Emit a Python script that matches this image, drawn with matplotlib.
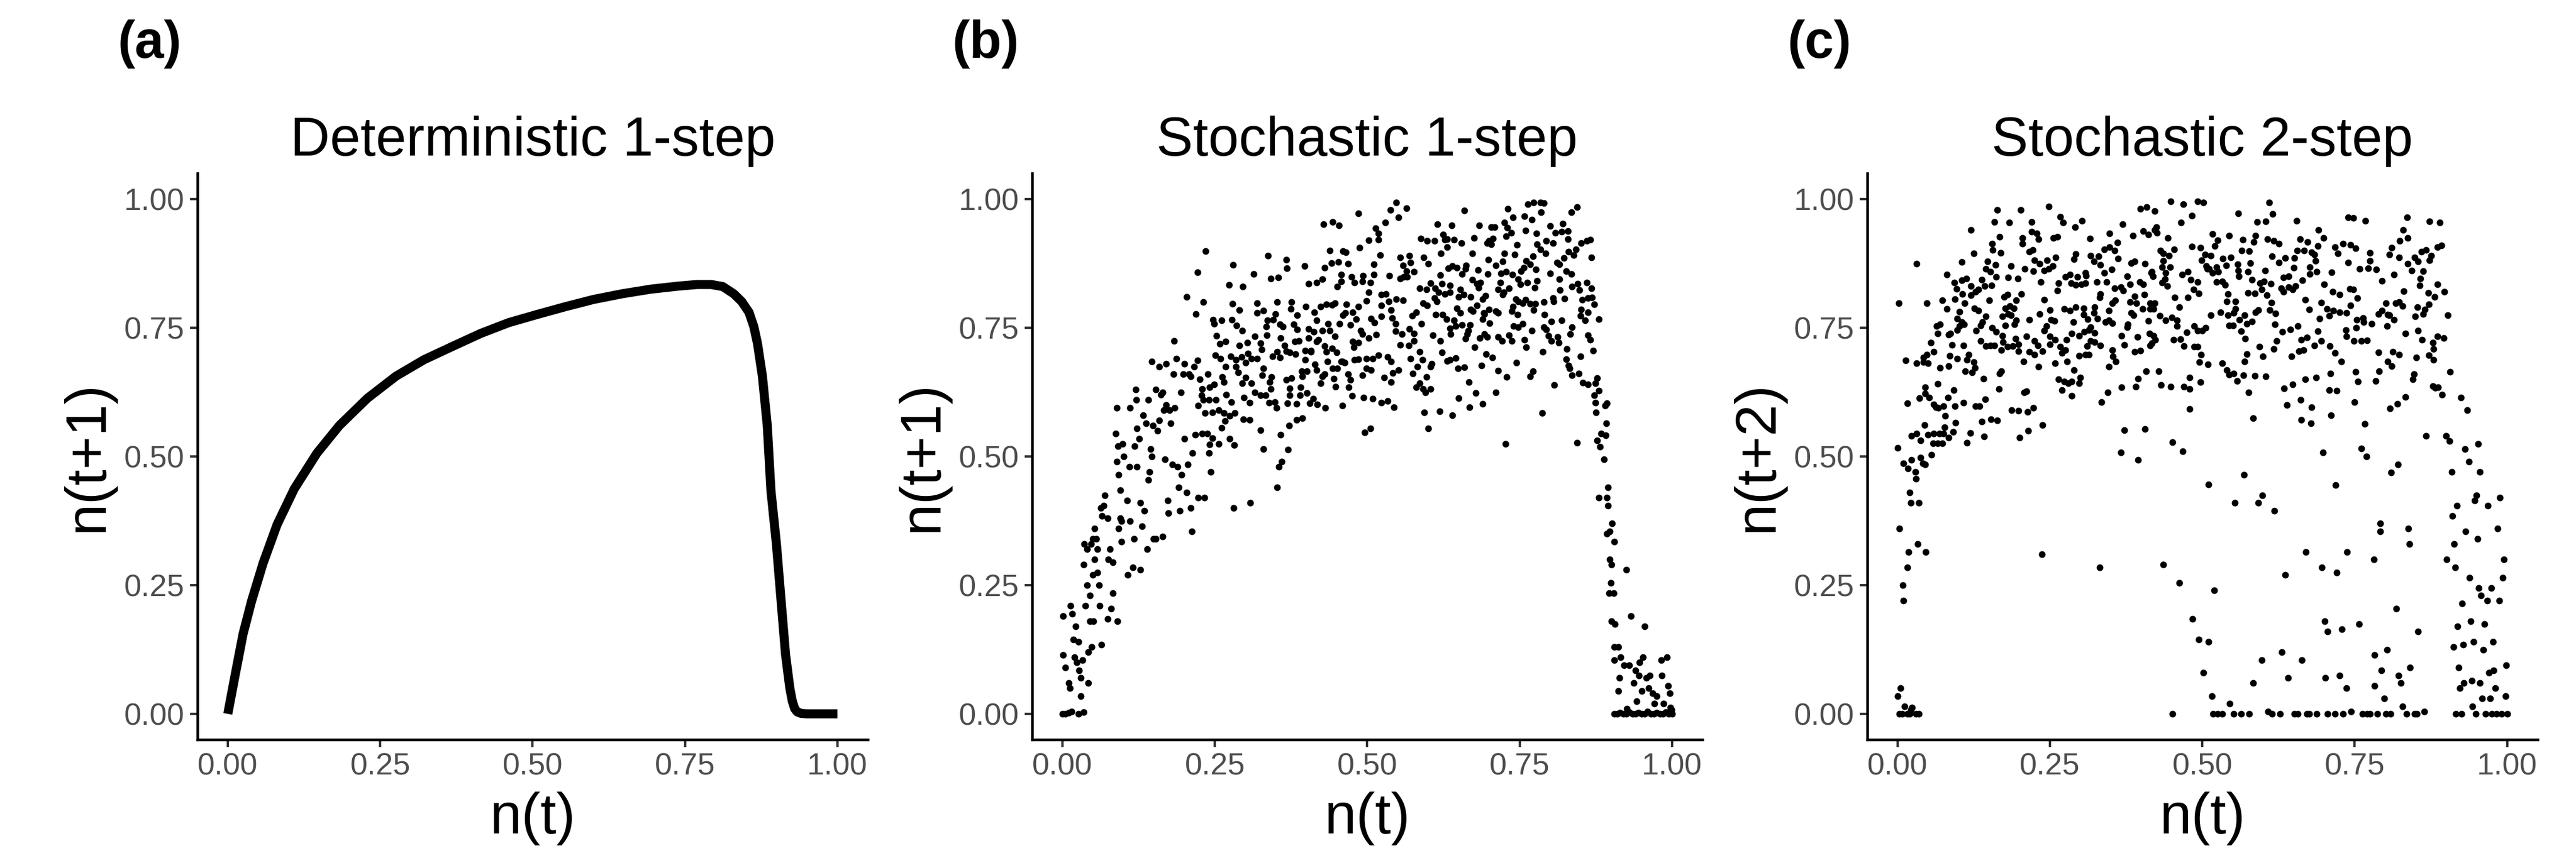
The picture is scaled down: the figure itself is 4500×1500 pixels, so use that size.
import numpy as np
import matplotlib
matplotlib.use("Agg")
import matplotlib.pyplot as plt

plt.rcParams['font.family'] = ['Liberation Sans', 'DejaVu Sans']

# ── Data ──────────────────────────────────────────────────────────────────────
ticks = [0.0, 0.25, 0.5, 0.75, 1.0]
tick_labels = ['0.00', '0.25', '0.50', '0.75', '1.00']

titles = ['Deterministic 1-step', 'Stochastic 1-step', 'Stochastic 2-step']
tags = ['(a)', '(b)', '(c)']
ylabels = ['n(t+1)', 'n(t+1)', 'n(t+2)']
xlabel = 'n(t)'

# (a) deterministic map
det_x = [0.000, 0.011, 0.025, 0.039, 0.058, 0.081, 0.109, 0.146, 0.183, 0.229,
         0.276, 0.322, 0.369, 0.415, 0.461, 0.508, 0.554, 0.600, 0.647, 0.694,
         0.740, 0.770, 0.793, 0.812, 0.830, 0.843, 0.855, 0.863, 0.869, 0.877,
         0.885, 0.891, 0.900, 0.908, 0.915, 0.922, 0.926, 0.930, 0.934, 0.940,
         0.950, 1.000]
det_y = [0.000, 0.069, 0.155, 0.219, 0.293, 0.368, 0.437, 0.506, 0.560, 0.613,
         0.656, 0.688, 0.714, 0.739, 0.760, 0.776, 0.791, 0.805, 0.816, 0.825,
         0.831, 0.834, 0.834, 0.830, 0.816, 0.801, 0.780, 0.752, 0.719, 0.656,
         0.560, 0.434, 0.330, 0.215, 0.115, 0.050, 0.025, 0.010, 0.004, 0.001,
         0.000, 0.000]

# (b) stochastic 1-step pairs (n(t), n(t+1))
b_points = [
    # rising branch, n(t) < 0.21
    (0.000, 0.000), (0.005, 0.000), (0.010, 0.002), (0.015, 0.004), (0.026, 0.000), (0.035, 0.003),
    (0.001, 0.190), (0.001, 0.115), (0.005, 0.090), (0.010, 0.060), (0.012, 0.050), (0.013, 0.210),
    (0.016, 0.195), (0.018, 0.145), (0.020, 0.110), (0.022, 0.170), (0.024, 0.100), (0.026, 0.140),
    (0.027, 0.085), (0.030, 0.035), (0.030, 0.070), (0.033, 0.105), (0.035, 0.290), (0.036, 0.330),
    (0.038, 0.210), (0.040, 0.320), (0.040, 0.250), (0.042, 0.120), (0.042, 0.060), (0.045, 0.230),
    (0.045, 0.180), (0.047, 0.330), (0.048, 0.130), (0.050, 0.270), (0.050, 0.340),
    (0.053, 0.300), (0.053, 0.360), (0.055, 0.340), (0.057, 0.320), (0.057, 0.275), (0.060, 0.250),
    (0.061, 0.210), (0.051, 0.180), (0.063, 0.400), (0.068, 0.405), (0.065, 0.385), (0.070, 0.425),
    (0.074, 0.380), (0.075, 0.300), (0.078, 0.320), (0.080, 0.205), (0.083, 0.235), (0.074, 0.185),
    (0.064, 0.135), (0.083, 0.295), (0.087, 0.545), (0.089, 0.595), (0.089, 0.490), (0.091, 0.520),
    (0.092, 0.465), (0.095, 0.435), (0.095, 0.380), (0.092, 0.360), (0.090, 0.180), (0.097, 0.375),
    (0.097, 0.335),
    (0.099, 0.525), (0.101, 0.500), (0.106, 0.415), (0.107, 0.270), (0.110, 0.480), (0.111, 0.375),
    (0.111, 0.595), (0.116, 0.285), (0.117, 0.340), (0.118, 0.520), (0.120, 0.630), (0.121, 0.610),
    (0.122, 0.555), (0.122, 0.480), (0.126, 0.535), (0.128, 0.410), (0.128, 0.280), (0.131, 0.365),
    (0.132, 0.580), (0.134, 0.395), (0.137, 0.565), (0.139, 0.320), (0.141, 0.610), (0.141, 0.455),
    (0.143, 0.470), (0.145, 0.515), (0.147, 0.685), (0.147, 0.500), (0.148, 0.560), (0.149, 0.340),
    (0.153, 0.630), (0.153, 0.340), (0.156, 0.550), (0.159, 0.675), (0.159, 0.570), (0.162, 0.620),
    (0.164, 0.625), (0.164, 0.345), (0.166, 0.590), (0.168, 0.495), (0.170, 0.680), (0.170, 0.600),
    (0.173, 0.415), (0.174, 0.390), (0.176, 0.590), (0.178, 0.565), (0.180, 0.485), (0.182, 0.660),
    (0.183, 0.725), (0.184, 0.595), (0.187, 0.690), (0.189, 0.480), (0.191, 0.440), (0.193, 0.395),
    (0.194, 0.625), (0.195, 0.465), (0.198, 0.660), (0.200, 0.680), (0.200, 0.535),
    (0.204, 0.810), (0.204, 0.430), (0.206, 0.485), (0.208, 0.660), (0.210, 0.400), (0.212, 0.355),
    (0.223, 0.420), (0.233, 0.420), (0.243, 0.470), (0.281, 0.400), (0.308, 0.410), (0.352, 0.440),
    (0.355, 0.480),
    # main cloud, 0.21 <= n(t) < 0.59
    (0.548, 0.993), (0.538, 0.979), (0.564, 0.982), (0.551, 0.964), (0.486, 0.972), (0.428, 0.951),
    (0.443, 0.956), (0.454, 0.949), (0.530, 0.954), (0.514, 0.943), (0.518, 0.933), (0.502, 0.920),
    (0.518, 0.921), (0.235, 0.899), (0.337, 0.890), (0.367, 0.882), (0.439, 0.900), (0.460, 0.899),
    (0.465, 0.897), (0.487, 0.906), (0.521, 0.891), (0.554, 0.887), (0.569, 0.890), (0.280, 0.872),
    (0.222, 0.858), (0.314, 0.855), (0.368, 0.866), (0.397, 0.870), (0.430, 0.867), (0.441, 0.876),
    (0.453, 0.878), (0.469, 0.874), (0.511, 0.873), (0.559, 0.871), (0.571, 0.877), (0.564, 0.860),
    (0.577, 0.859), (0.560, 0.849), (0.536, 0.851), (0.511, 0.853), (0.457, 0.853), (0.474, 0.849),
    (0.493, 0.851), (0.273, 0.833), (0.296, 0.830), (0.342, 0.846), (0.354, 0.848), (0.404, 0.836),
    (0.417, 0.838), (0.426, 0.845), (0.451, 0.830), (0.457, 0.840), (0.479, 0.838), (0.492, 0.840),
    (0.505, 0.838), (0.502, 0.819), (0.554, 0.846), (0.565, 0.849), (0.523, 0.814), (0.531, 0.816),
    (0.231, 0.800), (0.219, 0.777), (0.279, 0.797), (0.290, 0.784), (0.319, 0.798), (0.319, 0.779),
    (0.330, 0.783), (0.352, 0.800), (0.376, 0.800), (0.375, 0.787), (0.385, 0.775), (0.399, 0.791),
    (0.413, 0.780), (0.424, 0.791), (0.433, 0.796), (0.447, 0.798), (0.442, 0.795), (0.466, 0.796),
    (0.464, 0.779), (0.476, 0.780), (0.486, 0.791), (0.499, 0.802), (0.523, 0.793), (0.535, 0.801),
    (0.539, 0.784), (0.548, 0.806), (0.559, 0.803), (0.580, 0.780), (0.247, 0.766), (0.249, 0.758),
    (0.261, 0.764), (0.278, 0.766), (0.286, 0.755), (0.295, 0.745), (0.336, 0.764), (0.334, 0.752),
    (0.346, 0.766), (0.349, 0.777), (0.357, 0.757), (0.362, 0.752), (0.379, 0.757), (0.385, 0.747),
    (0.404, 0.748), (0.412, 0.742), (0.417, 0.764), (0.426, 0.744), (0.436, 0.758), (0.439, 0.744),
    (0.455, 0.758), (0.460, 0.775), (0.472, 0.756), (0.482, 0.767), (0.506, 0.768), (0.512, 0.760),
    (0.523, 0.772), (0.541, 0.769), (0.547, 0.758), (0.574, 0.773), (0.569, 0.748), (0.489, 0.745),
    (0.253, 0.734), (0.258, 0.719), (0.268, 0.723), (0.290, 0.716), (0.303, 0.721), (0.316, 0.733),
    (0.325, 0.720), (0.327, 0.708), (0.335, 0.736), (0.358, 0.730), (0.364, 0.716), (0.381, 0.723),
    (0.388, 0.724), (0.404, 0.730), (0.417, 0.723), (0.420, 0.727), (0.430, 0.714), (0.442, 0.710),
    (0.447, 0.733), (0.398, 0.706), (0.408, 0.706), (0.476, 0.723), (0.486, 0.721), (0.492, 0.738),
    (0.502, 0.730), (0.515, 0.737), (0.547, 0.743), (0.557, 0.738), (0.568, 0.716), (0.577, 0.725),
    (0.577, 0.739), (0.554, 0.717), (0.478, 0.712), (0.251, 0.697), (0.259, 0.690), (0.276, 0.695),
    (0.285, 0.688), (0.294, 0.693), (0.304, 0.700), (0.310, 0.690), (0.319, 0.690), (0.301, 0.682),
    (0.345, 0.695), (0.352, 0.703), (0.357, 0.692), (0.367, 0.705), (0.373, 0.702), (0.382, 0.699),
    (0.398, 0.688), (0.408, 0.703), (0.435, 0.684), (0.433, 0.703), (0.450, 0.702), (0.457, 0.684),
    (0.463, 0.682), (0.479, 0.688), (0.486, 0.689), (0.499, 0.690), (0.509, 0.690), (0.518, 0.697),
    (0.533, 0.693), (0.539, 0.684), (0.571, 0.690), (0.222, 0.687), (0.216, 0.675), (0.268, 0.675),
    (0.285, 0.675), (0.210, 0.656), (0.225, 0.650), (0.239, 0.660), (0.262, 0.655), (0.265, 0.645),
    (0.288, 0.663), (0.295, 0.642), (0.301, 0.653), (0.310, 0.642), (0.330, 0.671), (0.328, 0.658),
    (0.340, 0.645), (0.343, 0.655), (0.342, 0.631), (0.367, 0.649), (0.376, 0.652), (0.373, 0.632),
    (0.393, 0.666), (0.401, 0.666), (0.394, 0.656), (0.414, 0.679), (0.417, 0.668), (0.426, 0.656),
    (0.430, 0.660), (0.443, 0.671), (0.451, 0.671), (0.459, 0.684), (0.469, 0.660), (0.472, 0.649),
    (0.445, 0.651), (0.448, 0.636), (0.470, 0.634), (0.492, 0.658), (0.499, 0.671), (0.506, 0.668),
    (0.528, 0.653), (0.539, 0.645), (0.542, 0.662), (0.551, 0.668), (0.575, 0.661), (0.582, 0.674),
    (0.580, 0.634), (0.229, 0.631), (0.241, 0.634), (0.249, 0.640), (0.228, 0.619), (0.231, 0.610),
    (0.240, 0.610), (0.252, 0.610), (0.269, 0.620), (0.277, 0.606), (0.298, 0.614), (0.307, 0.605),
    (0.316, 0.625), (0.325, 0.619), (0.333, 0.619), (0.339, 0.605), (0.348, 0.606), (0.351, 0.594),
    (0.369, 0.603), (0.373, 0.619), (0.384, 0.602), (0.390, 0.619), (0.391, 0.634), (0.401, 0.623),
    (0.406, 0.603), (0.411, 0.612), (0.418, 0.601), (0.431, 0.594), (0.424, 0.642), (0.459, 0.599),
    (0.475, 0.618), (0.494, 0.614), (0.509, 0.612), (0.523, 0.605), (0.533, 0.608), (0.544, 0.596),
    (0.223, 0.599), (0.234, 0.584), (0.246, 0.586), (0.256, 0.590), (0.265, 0.584), (0.274, 0.579),
    (0.283, 0.584), (0.267, 0.569), (0.261, 0.556), (0.297, 0.572), (0.307, 0.571), (0.372, 0.560),
    (0.384, 0.571), (0.394, 0.575), (0.496, 0.547), (0.505, 0.555), (0.218, 0.542), (0.229, 0.545),
    (0.238, 0.545), (0.246, 0.536), (0.241, 0.523), (0.256, 0.525), (0.274, 0.534), (0.282, 0.522),
    (0.213, 0.507), (0.240, 0.507), (0.325, 0.551), (0.358, 0.542), (0.330, 0.514), (0.370, 0.513),
    (0.360, 0.490),
    # main cloud, 0.59 <= n(t) < 0.9
    (0.764, 0.990), (0.773, 0.993), (0.784, 0.993), (0.790, 0.992), (0.785, 0.975), (0.731, 0.981),
    (0.659, 0.978), (0.739, 0.965), (0.758, 0.967), (0.770, 0.960), (0.844, 0.985), (0.835, 0.975),
    (0.615, 0.951), (0.639, 0.949), (0.684, 0.949), (0.703, 0.946), (0.709, 0.946), (0.725, 0.954),
    (0.730, 0.945), (0.736, 0.934), (0.728, 0.928), (0.760, 0.939), (0.778, 0.933), (0.800, 0.948),
    (0.821, 0.952), (0.809, 0.935), (0.819, 0.937), (0.829, 0.938), (0.829, 0.922), (0.588, 0.923),
    (0.598, 0.919), (0.610, 0.919), (0.625, 0.931), (0.627, 0.921), (0.631, 0.922), (0.642, 0.921),
    (0.655, 0.914), (0.675, 0.924), (0.631, 0.907), (0.621, 0.895), (0.672, 0.894), (0.697, 0.914),
    (0.703, 0.912), (0.706, 0.923), (0.700, 0.919), (0.746, 0.911), (0.742, 0.892), (0.725, 0.894),
    (0.779, 0.912), (0.784, 0.902), (0.794, 0.919), (0.805, 0.914), (0.793, 0.894), (0.830, 0.898),
    (0.842, 0.902), (0.839, 0.891), (0.851, 0.914), (0.860, 0.919), (0.866, 0.921), (0.868, 0.887),
    (0.772, 0.889), (0.593, 0.887), (0.600, 0.875), (0.620, 0.852), (0.633, 0.866), (0.640, 0.870),
    (0.647, 0.867), (0.662, 0.871), (0.661, 0.865), (0.656, 0.855), (0.682, 0.862), (0.698, 0.854),
    (0.699, 0.882), (0.711, 0.871), (0.722, 0.879), (0.719, 0.856), (0.728, 0.859), (0.738, 0.853),
    (0.752, 0.860), (0.757, 0.867), (0.761, 0.880), (0.767, 0.873), (0.777, 0.863), (0.800, 0.856),
    (0.811, 0.877), (0.815, 0.873), (0.823, 0.886), (0.826, 0.860), (0.835, 0.854), (0.586, 0.827),
    (0.597, 0.825), (0.604, 0.837), (0.611, 0.827), (0.617, 0.819), (0.623, 0.836), (0.636, 0.832),
    (0.636, 0.819), (0.627, 0.816), (0.653, 0.825), (0.672, 0.843), (0.680, 0.836), (0.686, 0.838),
    (0.683, 0.828), (0.718, 0.838), (0.715, 0.825), (0.724, 0.819), (0.733, 0.827), (0.748, 0.845),
    (0.751, 0.834), (0.763, 0.838), (0.775, 0.828), (0.779, 0.841), (0.815, 0.845), (0.816, 0.823),
    (0.836, 0.830), (0.845, 0.836), (0.848, 0.823), (0.860, 0.838), (0.868, 0.827), (0.610, 0.808),
    (0.614, 0.801), (0.592, 0.798), (0.598, 0.793), (0.650, 0.810), (0.658, 0.814), (0.670, 0.810),
    (0.647, 0.788), (0.653, 0.779), (0.670, 0.786), (0.673, 0.782), (0.680, 0.793), (0.689, 0.806),
    (0.694, 0.812), (0.691, 0.779), (0.700, 0.786), (0.711, 0.782), (0.715, 0.779), (0.722, 0.814),
    (0.737, 0.782), (0.739, 0.791), (0.744, 0.806), (0.748, 0.801), (0.760, 0.804), (0.755, 0.798),
    (0.767, 0.797), (0.776, 0.797), (0.773, 0.785), (0.790, 0.800), (0.805, 0.808), (0.806, 0.801),
    (0.824, 0.807), (0.853, 0.804), (0.862, 0.808), (0.869, 0.809), (0.872, 0.796), (0.851, 0.786),
    (0.862, 0.780), (0.612, 0.776), (0.624, 0.776), (0.630, 0.767), (0.642, 0.765), (0.589, 0.758),
    (0.636, 0.749), (0.645, 0.753), (0.656, 0.756), (0.669, 0.756), (0.666, 0.745), (0.689, 0.767),
    (0.692, 0.777), (0.701, 0.759), (0.740, 0.753), (0.755, 0.758), (0.748, 0.751), (0.770, 0.745),
    (0.747, 0.776), (0.791, 0.776), (0.802, 0.762), (0.819, 0.765), (0.790, 0.751), (0.794, 0.747),
    (0.836, 0.751), (0.850, 0.773), (0.857, 0.764), (0.880, 0.767), (0.608, 0.736), (0.620, 0.725),
    (0.637, 0.738), (0.661, 0.729), (0.664, 0.738), (0.685, 0.730), (0.692, 0.738), (0.697, 0.732),
    (0.715, 0.732), (0.721, 0.725), (0.733, 0.736), (0.737, 0.725), (0.758, 0.727), (0.761, 0.712),
    (0.797, 0.734), (0.802, 0.725), (0.812, 0.732), (0.814, 0.721), (0.833, 0.738), (0.862, 0.736),
    (0.866, 0.727), (0.827, 0.709), (0.676, 0.712), (0.788, 0.703), (0.871, 0.706), (0.586, 0.703),
    (0.591, 0.688), (0.623, 0.702), (0.631, 0.686), (0.636, 0.688), (0.645, 0.691), (0.649, 0.671),
    (0.659, 0.673), (0.687, 0.677), (0.695, 0.699), (0.705, 0.692), (0.715, 0.667), (0.745, 0.682),
    (0.826, 0.689), (0.830, 0.677), (0.832, 0.671), (0.850, 0.694), (0.606, 0.680), (0.604, 0.675),
    (0.597, 0.654), (0.592, 0.631), (0.604, 0.631), (0.586, 0.642), (0.667, 0.645), (0.729, 0.655),
    (0.767, 0.656), (0.772, 0.666), (0.807, 0.639), (0.836, 0.658), (0.847, 0.661), (0.854, 0.643),
    (0.862, 0.640), (0.874, 0.642), (0.877, 0.652), (0.595, 0.624), (0.678, 0.623), (0.711, 0.624),
    (0.650, 0.613), (0.668, 0.596), (0.689, 0.602), (0.594, 0.586), (0.619, 0.588), (0.640, 0.580),
    (0.787, 0.584), (0.872, 0.619), (0.880, 0.628), (0.874, 0.605), (0.890, 0.599), (0.893, 0.603),
    (0.875, 0.586), (0.600, 0.555), (0.892, 0.564), (0.884, 0.545), (0.891, 0.541), (0.877, 0.531),
    (0.882, 0.519), (0.888, 0.494), (0.727, 0.525), (0.844, 0.527),
    # collapse, n(t) >= 0.88
    (0.893, 0.420), (0.895, 0.440), (0.880, 0.420), (0.895, 0.405), (0.893, 0.350), (0.898, 0.355),
    (0.902, 0.370), (0.905, 0.335), (0.898, 0.300), (0.901, 0.290), (0.900, 0.255), (0.897, 0.235),
    (0.904, 0.235), (0.901, 0.180), (0.906, 0.175), (0.905, 0.130), (0.905, 0.105), (0.912, 0.130),
    (0.916, 0.110), (0.914, 0.070), (0.925, 0.280), (0.912, 0.045), (0.921, 0.095), (0.930, 0.095),
    (0.933, 0.190), (0.937, 0.060), (0.946, 0.075), (0.950, 0.045), (0.942, 0.025), (0.926, 0.010),
    (0.955, 0.170), (0.958, 0.070), (0.962, 0.050), (0.964, 0.075), (0.968, 0.040), (0.971, 0.020),
    (0.982, 0.105), (0.983, 0.075), (0.986, 0.020), (0.992, 0.110), (0.994, 0.055), (0.996, 0.040),
    (0.975, 0.035), (0.952, 0.110), (0.940, 0.085), (0.947, 0.100),
    (0.905, 0.000), (0.910, 0.000), (0.915, 0.002), (0.920, 0.000), (0.925, 0.000), (0.930, 0.003),
    (0.935, 0.000), (0.940, 0.000), (0.945, 0.002), (0.950, 0.000), (0.955, 0.000), (0.960, 0.004),
    (0.965, 0.000), (0.970, 0.000), (0.975, 0.002), (0.980, 0.000), (0.985, 0.000), (0.990, 0.003),
    (0.995, 0.000), (0.999, 0.008), (1.000, 0.000), (0.997, 0.012),
]

# (c) stochastic 2-step pairs (n(t), n(t+2))
c_points = [
    # lower part, left edge
    (0.003, 0.360), (0.009, 0.250), (0.010, 0.220), (0.016, 0.285), (0.018, 0.315), (0.020, 0.430),
    (0.022, 0.410), (0.035, 0.410), (0.033, 0.330), (0.046, 0.315),
    (0.000, 0.035), (0.003, 0.000), (0.005, 0.050), (0.008, 0.000), (0.011, 0.015), (0.016, 0.000),
    (0.022, 0.008), (0.024, 0.012), (0.030, 0.000), (0.020, 0.000), (0.035, 0.000),
    # lower part, middle
    (0.237, 0.310), (0.332, 0.285), (0.436, 0.290), (0.451, 0.000), (0.462, 0.255), (0.484, 0.185),
    (0.494, 0.145), (0.502, 0.080), (0.510, 0.140), (0.516, 0.035), (0.518, 0.000), (0.519, 0.240),
    (0.525, 0.000), (0.533, 0.000), (0.545, 0.020), (0.551, 0.000), (0.553, 0.410), (0.564, 0.000),
    (0.577, 0.000), (0.583, 0.060), (0.592, 0.410), (0.597, 0.105), (0.598, 0.425), (0.608, 0.005),
    (0.614, 0.000), (0.618, 0.395), (0.627, 0.000), (0.630, 0.120), (0.636, 0.270), (0.641, 0.070),
    (0.651, 0.000), (0.657, 0.000), (0.663, 0.105), (0.670, 0.315), (0.672, 0.000), (0.675, 0.000),
    (0.688, 0.000), (0.696, 0.285), (0.701, 0.180), (0.702, 0.070), (0.705, 0.160), (0.705, 0.000),
    (0.718, 0.000), (0.720, 0.275), (0.725, 0.075), (0.729, 0.165), (0.731, 0.000), (0.736, 0.050),
    (0.737, 0.315), (0.744, 0.005), (0.757, 0.175), (0.763, 0.000), (0.770, 0.000), (0.775, 0.000),
    (0.781, 0.300), (0.782, 0.115), (0.782, 0.055), (0.787, 0.000), (0.792, 0.370), (0.792, 0.355),
    (0.794, 0.085), (0.798, 0.030), (0.801, 0.000), (0.803, 0.125), (0.809, 0.000), (0.818, 0.205),
    (0.822, 0.075), (0.826, 0.060), (0.828, 0.015), (0.835, 0.000), (0.838, 0.360), (0.840, 0.330),
    (0.841, 0.090), (0.848, 0.000), (0.852, 0.000), (0.854, 0.160), (0.864, 0.005),
    # upper band, n(t) < 0.42
    (0.164, 0.979), (0.202, 0.979), (0.248, 0.986), (0.267, 0.966), (0.272, 0.955), (0.291, 0.946),
    (0.303, 0.958), (0.398, 0.981), (0.409, 0.985), (0.159, 0.956), (0.183, 0.954), (0.220, 0.956),
    (0.120, 0.940), (0.167, 0.927), (0.205, 0.924), (0.205, 0.913), (0.220, 0.937), (0.228, 0.933),
    (0.231, 0.922), (0.256, 0.924), (0.262, 0.927), (0.316, 0.923), (0.348, 0.933), (0.361, 0.916),
    (0.369, 0.951), (0.386, 0.929), (0.403, 0.938), (0.411, 0.931), (0.155, 0.913), (0.156, 0.901),
    (0.169, 0.896), (0.125, 0.895), (0.216, 0.898), (0.222, 0.901), (0.292, 0.893), (0.289, 0.883),
    (0.259, 0.887), (0.339, 0.902), (0.348, 0.907), (0.356, 0.900), (0.362, 0.885), (0.317, 0.890),
    (0.330, 0.889), (0.322, 0.879), (0.333, 0.872), (0.383, 0.876), (0.389, 0.879), (0.406, 0.874),
    (0.031, 0.875), (0.105, 0.878), (0.148, 0.879), (0.161, 0.872), (0.186, 0.870), (0.225, 0.881),
    (0.233, 0.874), (0.245, 0.881), (0.255, 0.870), (0.145, 0.864), (0.152, 0.859), (0.209, 0.864),
    (0.223, 0.860), (0.241, 0.861), (0.248, 0.864), (0.081, 0.853), (0.093, 0.838), (0.105, 0.842),
    (0.113, 0.846), (0.120, 0.831), (0.138, 0.843), (0.143, 0.831), (0.154, 0.832), (0.133, 0.824),
    (0.128, 0.820), (0.162, 0.849), (0.181, 0.848), (0.197, 0.846), (0.235, 0.839), (0.275, 0.849),
    (0.283, 0.853), (0.295, 0.849), (0.308, 0.857), (0.309, 0.851), (0.264, 0.837), (0.285, 0.837),
    (0.292, 0.833), (0.302, 0.835), (0.308, 0.837), (0.327, 0.839), (0.343, 0.839), (0.351, 0.863),
    (0.339, 0.857), (0.377, 0.850), (0.397, 0.839), (0.403, 0.835), (0.416, 0.857), (0.097, 0.826),
    (0.106, 0.816), (0.120, 0.813), (0.262, 0.822), (0.356, 0.827), (0.366, 0.829), (0.370, 0.822),
    (0.381, 0.835), (0.002, 0.798), (0.048, 0.798), (0.073, 0.803), (0.094, 0.806), (0.110, 0.798),
    (0.126, 0.788), (0.133, 0.783), (0.150, 0.803), (0.175, 0.810), (0.180, 0.814), (0.195, 0.803),
    (0.203, 0.816), (0.241, 0.805), (0.333, 0.816), (0.332, 0.809), (0.357, 0.803), (0.352, 0.798),
    (0.389, 0.811), (0.381, 0.800), (0.392, 0.798), (0.405, 0.814), (0.414, 0.798), (0.081, 0.787),
    (0.102, 0.781), (0.177, 0.788), (0.184, 0.792), (0.191, 0.788), (0.273, 0.787), (0.292, 0.790),
    (0.283, 0.783), (0.305, 0.788), (0.323, 0.790), (0.347, 0.783), (0.402, 0.787), (0.414, 0.787),
    (0.098, 0.768), (0.105, 0.761), (0.109, 0.757), (0.145, 0.772), (0.172, 0.772), (0.181, 0.777),
    (0.186, 0.774), (0.195, 0.764), (0.192, 0.757), (0.216, 0.766), (0.233, 0.777), (0.250, 0.785),
    (0.252, 0.766), (0.257, 0.763), (0.288, 0.761), (0.305, 0.776), (0.312, 0.767), (0.322, 0.779),
    (0.328, 0.768), (0.341, 0.761), (0.347, 0.764), (0.352, 0.759), (0.383, 0.779), (0.387, 0.774),
    (0.411, 0.763), (0.064, 0.753), (0.070, 0.757), (0.136, 0.755), (0.139, 0.761), (0.129, 0.744),
    (0.155, 0.750), (0.162, 0.742), (0.177, 0.754), (0.244, 0.753), (0.241, 0.744), (0.250, 0.733),
    (0.286, 0.739), (0.298, 0.735), (0.306, 0.742), (0.314, 0.746), (0.323, 0.740), (0.317, 0.751),
    (0.378, 0.757), (0.377, 0.751), (0.098, 0.746), (0.102, 0.753), (0.066, 0.739), (0.084, 0.737),
    (0.087, 0.739), (0.055, 0.721), (0.089, 0.717), (0.108, 0.716), (0.136, 0.724), (0.145, 0.714),
    (0.152, 0.716), (0.159, 0.716), (0.172, 0.735), (0.173, 0.722), (0.180, 0.713), (0.189, 0.714),
    (0.194, 0.729), (0.198, 0.718), (0.170, 0.707), (0.198, 0.705), (0.211, 0.733), (0.225, 0.724),
    (0.230, 0.716), (0.250, 0.718), (0.258, 0.727), (0.277, 0.727), (0.267, 0.713), (0.275, 0.707),
    (0.270, 0.701), (0.311, 0.714), (0.317, 0.724), (0.323, 0.722), (0.333, 0.716), (0.367, 0.735),
    (0.372, 0.717), (0.394, 0.732), (0.413, 0.739), (0.414, 0.716), (0.352, 0.707), (0.389, 0.703),
    (0.398, 0.706), (0.216, 0.703), (0.225, 0.698), (0.238, 0.705), (0.048, 0.698), (0.059, 0.703),
    (0.042, 0.692), (0.013, 0.687), (0.031, 0.681), (0.042, 0.683), (0.050, 0.681), (0.086, 0.696),
    (0.098, 0.690), (0.117, 0.698), (0.114, 0.688), (0.125, 0.683), (0.127, 0.672), (0.111, 0.666),
    (0.122, 0.663), (0.070, 0.672), (0.084, 0.676), (0.207, 0.685), (0.231, 0.674), (0.258, 0.681),
    (0.278, 0.685), (0.298, 0.696), (0.308, 0.698), (0.314, 0.698), (0.353, 0.694), (0.358, 0.685),
    (0.347, 0.674), (0.408, 0.666), (0.170, 0.666), (0.167, 0.661), (0.289, 0.668), (0.141, 0.651),
    (0.045, 0.634), (0.066, 0.641), (0.092, 0.629), (0.166, 0.631), (0.264, 0.650), (0.273, 0.646),
    (0.280, 0.642), (0.286, 0.646), (0.300, 0.653), (0.298, 0.642), (0.270, 0.629), (0.286, 0.618),
    (0.334, 0.606), (0.345, 0.624), (0.367, 0.634), (0.391, 0.636), (0.395, 0.651), (0.208, 0.624),
    (0.211, 0.627), (0.016, 0.603), (0.036, 0.613), (0.045, 0.622), (0.052, 0.614), (0.083, 0.615),
    (0.108, 0.604), (0.144, 0.611), (0.128, 0.598), (0.134, 0.598), (0.059, 0.601), (0.063, 0.596),
    (0.067, 0.594), (0.075, 0.598), (0.094, 0.598), (0.078, 0.579), (0.044, 0.561), (0.077, 0.557),
    (0.095, 0.566), (0.091, 0.548), (0.084, 0.537), (0.119, 0.546), (0.138, 0.568), (0.153, 0.572),
    (0.164, 0.570), (0.187, 0.590), (0.198, 0.589), (0.213, 0.587), (0.223, 0.595), (0.238, 0.561),
    (0.214, 0.550), (0.200, 0.537), (0.142, 0.539), (0.372, 0.551), (0.406, 0.553), (0.023, 0.540),
    (0.031, 0.545), (0.038, 0.531), (0.050, 0.542), (0.059, 0.544), (0.069, 0.544), (0.075, 0.545),
    (0.058, 0.526), (0.066, 0.526), (0.073, 0.526), (0.114, 0.527), (0.000, 0.517), (0.056, 0.503),
    (0.010, 0.487), (0.017, 0.477), (0.023, 0.493), (0.038, 0.498), (0.041, 0.487), (0.045, 0.485),
    (0.029, 0.470), (0.030, 0.457), (0.366, 0.508), (0.395, 0.493),
    # upper band, 0.42 <= n(t) < 0.89
    (0.448, 0.996), (0.469, 0.990), (0.492, 0.996), (0.502, 0.993), (0.610, 0.993), (0.422, 0.977),
    (0.559, 0.972), (0.615, 0.971), (0.483, 0.968), (0.465, 0.954), (0.590, 0.956), (0.604, 0.957),
    (0.655, 0.958), (0.739, 0.964), (0.748, 0.963), (0.767, 0.958), (0.836, 0.964), (0.873, 0.957),
    (0.425, 0.946), (0.422, 0.940), (0.426, 0.935), (0.443, 0.924), (0.517, 0.932), (0.544, 0.929),
    (0.587, 0.929), (0.566, 0.921), (0.584, 0.917), (0.607, 0.922), (0.617, 0.919), (0.626, 0.913),
    (0.660, 0.922), (0.673, 0.917), (0.690, 0.940), (0.699, 0.924), (0.689, 0.909), (0.829, 0.940),
    (0.837, 0.924), (0.824, 0.919), (0.811, 0.906), (0.525, 0.920), (0.520, 0.909), (0.483, 0.908),
    (0.497, 0.906), (0.431, 0.900), (0.436, 0.894), (0.445, 0.890), (0.454, 0.902), (0.436, 0.880),
    (0.434, 0.868), (0.447, 0.868), (0.504, 0.892), (0.514, 0.890), (0.499, 0.881), (0.534, 0.884),
    (0.547, 0.887), (0.539, 0.871), (0.506, 0.870), (0.511, 0.864), (0.523, 0.868), (0.526, 0.859),
    (0.565, 0.900), (0.577, 0.899), (0.558, 0.873), (0.579, 0.876), (0.614, 0.889), (0.626, 0.877),
    (0.636, 0.886), (0.651, 0.886), (0.656, 0.900), (0.667, 0.900), (0.679, 0.897), (0.684, 0.892),
    (0.686, 0.880), (0.718, 0.907), (0.722, 0.895), (0.731, 0.913), (0.743, 0.911), (0.751, 0.905),
    (0.739, 0.877), (0.775, 0.896), (0.775, 0.880), (0.758, 0.864), (0.772, 0.866), (0.785, 0.863),
    (0.807, 0.892), (0.823, 0.887), (0.837, 0.874), (0.848, 0.887), (0.854, 0.879), (0.867, 0.901),
    (0.875, 0.890), (0.859, 0.898), (0.873, 0.881), (0.886, 0.907), (0.417, 0.859), (0.419, 0.850),
    (0.440, 0.857), (0.439, 0.844), (0.434, 0.838), (0.442, 0.831), (0.467, 0.853), (0.476, 0.859),
    (0.481, 0.843), (0.492, 0.839), (0.486, 0.824), (0.494, 0.817), (0.508, 0.864), (0.517, 0.857),
    (0.523, 0.839), (0.533, 0.840), (0.537, 0.833), (0.559, 0.861), (0.560, 0.850), (0.575, 0.859),
    (0.581, 0.843), (0.595, 0.837), (0.601, 0.840), (0.612, 0.836), (0.597, 0.824), (0.603, 0.861),
    (0.650, 0.867), (0.676, 0.868), (0.676, 0.854), (0.688, 0.859), (0.712, 0.858), (0.633, 0.848),
    (0.642, 0.850), (0.664, 0.842), (0.700, 0.834), (0.629, 0.827), (0.633, 0.820), (0.642, 0.829),
    (0.648, 0.824), (0.653, 0.831), (0.814, 0.853), (0.795, 0.841), (0.843, 0.861), (0.862, 0.860),
    (0.858, 0.846), (0.857, 0.832), (0.886, 0.835), (0.455, 0.809), (0.476, 0.809), (0.462, 0.790),
    (0.422, 0.798), (0.420, 0.787), (0.542, 0.816), (0.540, 0.801), (0.554, 0.801), (0.575, 0.818),
    (0.586, 0.817), (0.606, 0.813), (0.613, 0.799), (0.611, 0.785), (0.620, 0.778), (0.592, 0.784),
    (0.587, 0.780), (0.554, 0.787), (0.551, 0.779), (0.542, 0.775), (0.530, 0.780), (0.514, 0.775),
    (0.669, 0.804), (0.675, 0.786), (0.695, 0.799), (0.704, 0.787), (0.714, 0.820), (0.725, 0.814),
    (0.742, 0.826), (0.748, 0.824), (0.754, 0.808), (0.743, 0.793), (0.715, 0.783), (0.725, 0.780),
    (0.736, 0.779), (0.708, 0.773), (0.801, 0.798), (0.817, 0.798), (0.823, 0.800), (0.828, 0.792),
    (0.795, 0.783), (0.789, 0.777), (0.804, 0.776), (0.830, 0.821), (0.853, 0.790), (0.865, 0.786),
    (0.862, 0.777), (0.872, 0.796), (0.871, 0.818), (0.881, 0.810), (0.430, 0.773), (0.440, 0.764),
    (0.450, 0.770), (0.458, 0.764), (0.458, 0.753), (0.487, 0.753), (0.492, 0.744), (0.505, 0.750),
    (0.500, 0.745), (0.474, 0.741), (0.544, 0.755), (0.550, 0.754), (0.561, 0.766), (0.569, 0.774),
    (0.573, 0.758), (0.581, 0.762), (0.564, 0.743), (0.570, 0.729), (0.619, 0.757), (0.631, 0.742),
    (0.644, 0.747), (0.657, 0.753), (0.692, 0.768), (0.689, 0.743), (0.735, 0.746), (0.736, 0.733),
    (0.753, 0.766), (0.764, 0.769), (0.765, 0.761), (0.778, 0.758), (0.752, 0.750), (0.803, 0.753),
    (0.807, 0.774), (0.814, 0.766), (0.849, 0.772), (0.833, 0.739), (0.854, 0.744), (0.860, 0.727),
    (0.886, 0.733), (0.420, 0.735), (0.423, 0.727), (0.417, 0.720), (0.453, 0.727), (0.464, 0.728),
    (0.470, 0.714), (0.487, 0.713), (0.492, 0.713), (0.498, 0.698), (0.495, 0.683), (0.509, 0.679),
    (0.573, 0.699), (0.569, 0.685), (0.594, 0.713), (0.599, 0.695), (0.622, 0.724), (0.617, 0.709),
    (0.662, 0.727), (0.672, 0.731), (0.658, 0.705), (0.666, 0.707), (0.646, 0.695), (0.684, 0.716),
    (0.695, 0.724), (0.709, 0.714), (0.718, 0.701), (0.749, 0.724), (0.761, 0.724), (0.770, 0.726),
    (0.789, 0.702), (0.812, 0.703), (0.823, 0.698), (0.804, 0.685), (0.811, 0.676), (0.851, 0.692),
    (0.878, 0.721), (0.879, 0.709), (0.872, 0.697), (0.879, 0.688), (0.728, 0.684), (0.428, 0.666),
    (0.432, 0.639), (0.448, 0.636), (0.470, 0.636), (0.479, 0.631), (0.479, 0.653), (0.497, 0.645),
    (0.533, 0.681), (0.540, 0.668), (0.544, 0.659), (0.551, 0.661), (0.557, 0.647), (0.567, 0.658),
    (0.586, 0.657), (0.604, 0.656), (0.576, 0.624), (0.634, 0.632), (0.648, 0.640), (0.669, 0.650),
    (0.687, 0.653), (0.710, 0.661), (0.708, 0.629), (0.720, 0.628), (0.751, 0.664), (0.755, 0.646),
    (0.784, 0.647), (0.790, 0.666), (0.847, 0.660), (0.845, 0.650), (0.833, 0.616), (0.820, 0.602),
    (0.878, 0.637), (0.882, 0.633), (0.750, 0.606), (0.661, 0.610), (0.479, 0.592), (0.583, 0.574),
    (0.639, 0.600), (0.662, 0.571), (0.679, 0.596), (0.678, 0.564), (0.711, 0.580), (0.766, 0.563),
    (0.808, 0.593), (0.867, 0.540), (0.451, 0.528), (0.468, 0.510), (0.698, 0.508), (0.761, 0.516),
    (0.769, 0.500), (0.821, 0.484), (0.810, 0.469), (0.568, 0.464), (0.510, 0.446), (0.719, 0.445),
    # right edge, n(t) >= 0.887
    (0.887, 0.635), (0.889, 0.955), (0.892, 0.910), (0.893, 0.620), (0.896, 0.730), (0.897, 0.820),
    (0.900, 0.540), (0.901, 0.300),
    (0.903, 0.775), (0.905, 0.530), (0.906, 0.665), (0.909, 0.470), (0.910, 0.385), (0.912, 0.130),
    (0.913, 0.330), (0.915, 0.285), (0.916, 0.000), (0.918, 0.405), (0.919, 0.170), (0.920, 0.090),
    (0.922, 0.050), (0.924, 0.615), (0.925, 0.000), (0.926, 0.215), (0.928, 0.135), (0.929, 0.060),
    (0.931, 0.515), (0.932, 0.355), (0.935, 0.590), (0.937, 0.490), (0.938, 0.265), (0.940, 0.180),
    (0.942, 0.065), (0.943, 0.015), (0.945, 0.140), (0.947, 0.415), (0.949, 0.000), (0.950, 0.425),
    (0.951, 0.340),
    (0.952, 0.525), (0.953, 0.245), (0.955, 0.060), (0.955, 0.470), (0.957, 0.230), (0.959, 0.030),
    (0.961, 0.125), (0.963, 0.175), (0.965, 0.000), (0.967, 0.220), (0.968, 0.405), (0.970, 0.080),
    (0.972, 0.030), (0.974, 0.245), (0.975, 0.000), (0.977, 0.140), (0.978, 0.085), (0.981, 0.050),
    (0.982, 0.000), (0.984, 0.360), (0.987, 0.220), (0.988, 0.420), (0.991, 0.000), (0.993, 0.265),
    (0.995, 0.300), (0.997, 0.035), (0.998, 0.095), (1.000, 0.000),
]

# ── Figure ────────────────────────────────────────────────────────────────────
fig = plt.figure(figsize=(15, 5), dpi=300)

# axes boxes [left, bottom, width, height] in figure fractions
boxes = [
    [0.0766, 0.138, 0.2603, 0.660],
    [0.4006, 0.138, 0.2603, 0.660],
    [0.7248, 0.138, 0.2603, 0.660],
]
tag_x = [0.0457, 0.3697, 0.6938]

axes = [fig.add_axes(b) for b in boxes]


def style(ax, title, ylabel):
    for s in ['top', 'right']:
        ax.spines[s].set_visible(False)
    for s in ['left', 'bottom']:
        ax.spines[s].set_linewidth(1.1)
        ax.spines[s].set_color('black')
    ax.set_xlim(-0.05, 1.05)
    ax.set_ylim(-0.05, 1.05)
    ax.set_xticks(ticks)
    ax.set_xticklabels(tick_labels)
    ax.set_yticks(ticks)
    ax.set_yticklabels(tick_labels)
    ax.tick_params(length=3.2, width=1.0, color='#333333', labelcolor='#4D4D4D',
                   labelsize=13, pad=2.2)
    ax.set_title(title, fontsize=23, pad=7.5)
    ax.set_xlabel(xlabel, fontsize=24, labelpad=4.5)
    ax.set_ylabel(ylabel, fontsize=24, labelpad=4)


# (a)
axes[0].plot(det_x, det_y, color='black', lw=3.8, solid_capstyle='butt',
             solid_joinstyle='round')

# (b) and (c)
for ax, pts in [(axes[1], b_points), (axes[2], c_points)]:
    arr = np.array(pts)
    ax.scatter(arr[:, 0], arr[:, 1], s=8, color='black', linewidths=0)

for ax, t, yl in zip(axes, titles, ylabels):
    style(ax, t, yl)

for x, tag in zip(tag_x, tags):
    fig.text(x, 0.933, tag, fontsize=22, fontweight='bold', ha='left', va='baseline')

fig.savefig('out.png', dpi=300)
